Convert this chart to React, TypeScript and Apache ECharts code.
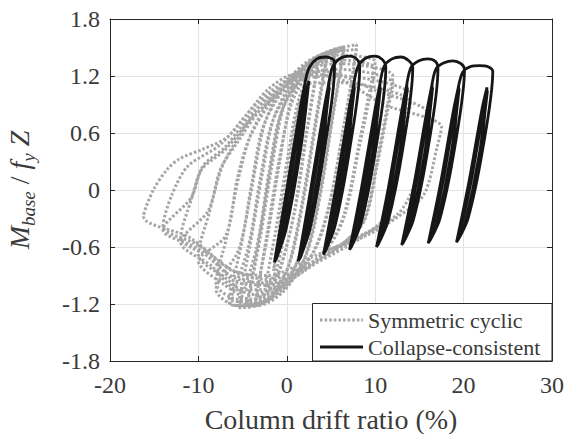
import React, { useEffect, useRef } from "react";
import * as echarts from "echarts";

// ---- axis ticks ----
const xTicks = [-20, -10, 0, 10, 20, 30];
const yTicks = [-1.8, -1.2, -0.6, 0, 0.6, 1.2, 1.8];

const legendNames = ["Symmetric cyclic", "Collapse-consistent"];

// ---- Symmetric cyclic (grey, dotted) : one continuous history ----
const symCycle1 = [[0, 0], [0.9, 0.55], [1.5, 0.95], [0.3, 0.05], [-0.7, -0.45], [-1.5, -0.85]];
const symCycle2 = [[-0.3, -0.05], [1.2, 0.8], [2.5, 1.2], [1.4, 0.55], [0.0, -0.3], [-1.2, -0.85], [-2.5, -1.05]];
const symCycle3 = [[-1.3, -0.45], [0.2, 0.4], [1.5, 1.0], [3.5, 1.33], [2.2, 0.6], [0.8, -0.25], [-0.8, -0.85], [-2.2, -1.08], [-3.5, -1.15]];
const symCycle3b = [[-2.3, -0.5], [-0.9, 0.3], [0.5, 0.9], [2.2, 1.2], [3.5, 1.3], [2.3, 0.62], [0.9, -0.22], [-0.8, -0.83], [-2.2, -1.06], [-3.5, -1.12]];
const symCycle4 = [[-2.2, -0.5], [-0.8, 0.3], [0.5, 0.95], [2.2, 1.25], [4.5, 1.42], [3.2, 0.7], [1.6, -0.2], [0, -0.85], [-2, -1.15], [-4.5, -1.22]];
const symCycle4b = [[-3.0, -0.5], [-1.6, 0.3], [-0.2, 0.92], [2.0, 1.22], [4.5, 1.38], [3.3, 0.7], [1.8, -0.15], [0.2, -0.8], [-2, -1.12], [-4.5, -1.2]];
const symCycle5 = [[-3.2, -0.55], [-1.8, 0.25], [-0.5, 0.85], [1.5, 1.2], [3.5, 1.38], [5.5, 1.48], [4.2, 0.75], [2.6, -0.15], [1.0, -0.8], [-1.5, -1.12], [-3.5, -1.22], [-5.5, -1.24]];
const symCycle5b = [[-3.4, -0.6], [-2.0, 0.2], [-0.7, 0.8], [1.5, 1.16], [3.5, 1.34], [5.5, 1.45], [4.3, 0.78], [2.8, -0.1], [1.2, -0.75], [-1.5, -1.1], [-3.5, -1.2], [-5.5, -1.2]];
const symCycle6 = [[-4.2, -0.6], [-2.8, 0.15], [-1.5, 0.75], [0.5, 1.12], [3, 1.38], [6.5, 1.51], [5.2, 0.8], [3.6, -0.1], [2.0, -0.72], [-0.5, -1.08], [-3.5, -1.22], [-6.5, -1.2]];
const symCycle6b = [[-4.4, -0.62], [-3.0, 0.12], [-1.7, 0.7], [0.5, 1.08], [3, 1.35], [6.5, 1.48], [5.3, 0.82], [3.8, -0.05], [2.2, -0.68], [-0.5, -1.05], [-3.5, -1.18], [-6.5, -1.15]];
const symCycle7 = [[-5.2, -0.6], [-3.8, 0.1], [-2.5, 0.7], [-0.5, 1.08], [2, 1.33], [5, 1.47], [7.9, 1.53], [7.6, 1.3], [6.5, 0.7], [4.8, -0.15], [3.0, -0.65], [0, -1.0], [-3, -1.2], [-5.5, -1.22], [-8, -1.05]];
const symCycle7b = [[-5.4, -0.62], [-4.0, 0.05], [-2.7, 0.66], [-0.5, 1.04], [2, 1.3], [5, 1.44], [7.9, 1.48], [7.5, 1.25], [6.4, 0.65], [4.8, -0.18], [3.0, -0.66], [0, -0.98], [-3, -1.15], [-5.5, -1.15], [-8, -0.98]];
const symCycle8 = [[-6.8, -0.5], [-5.4, 0.15], [-4.0, 0.6], [-1.5, 1.0], [2, 1.3], [6, 1.42], [10, 1.35], [9.6, 1.15], [8.2, 0.5], [6.5, -0.25], [4.5, -0.62], [0, -0.98], [-4, -1.15], [-7, -1.0], [-10, -0.75]];
const symCycle8b = [[-6.9, -0.48], [-5.6, 0.12], [-4.2, 0.55], [-1.5, 0.96], [2, 1.26], [6, 1.37], [10, 1.28], [9.6, 1.08], [8.2, 0.45], [6.5, -0.28], [4.5, -0.62], [0, -0.95], [-4, -1.1], [-7, -0.92], [-10, -0.68]];
const symCycle9 = [[-8.8, -0.25], [-7.3, 0.25], [-5.5, 0.55], [-2.5, 0.95], [1.5, 1.25], [6, 1.33], [12, 1.2], [11.5, 0.95], [10.3, 0.35], [8.8, -0.3], [6.5, -0.55], [2, -0.85], [-2, -1.05], [-5.5, -1.05], [-8.5, -0.8], [-12, -0.55]];
const symCycle9b = [[-8.9, -0.22], [-7.5, 0.22], [-5.6, 0.5], [-2.5, 0.9], [1.5, 1.2], [6, 1.27], [12, 1.12], [11.5, 0.88], [10.3, 0.3], [8.8, -0.32], [6.5, -0.55], [2, -0.82], [-2, -1.0], [-5.5, -0.98], [-8.5, -0.72], [-12, -0.5]];
const symCycle10 = [[-10.8, -0.1], [-9.5, 0.25], [-7, 0.45], [-3.5, 0.85], [1, 1.15], [6, 1.2], [14, 1.0], [13.6, 0.8], [12.4, 0.2], [11, -0.3], [8.5, -0.5], [3, -0.78], [-2, -0.98], [-6, -0.92], [-10, -0.62], [-14, -0.42]];
const symCycle10b = [[-10.8, -0.08], [-9.6, 0.22], [-7, 0.42], [-3.5, 0.8], [1, 1.1], [6, 1.13], [14, 0.92], [13.6, 0.72], [12.4, 0.15], [11, -0.3], [8.5, -0.48], [3, -0.75], [-2, -0.94], [-6, -0.86], [-10, -0.58], [-14, -0.38]];
const symCycle11 = [[-13, -0.05], [-11.2, 0.25], [-7.5, 0.48], [-3.5, 0.9], [0, 1.15], [4, 1.25], [10, 1.05], [16, 0.8], [15.6, 0.6], [14.4, 0.05], [12.6, -0.25], [9, -0.45], [3, -0.7], [-2, -0.9], [-6, -0.85], [-11, -0.5], [-16.2, -0.28]];
const symCycle12 = [[-15.1, 0.0], [-13.5, 0.22], [-12.1, 0.33], [-9.5, 0.43], [-6.8, 0.55], [-4.5, 0.8], [-2, 1.07], [1, 1.22], [5, 1.2], [11, 0.9], [17.5, 0.66], [17, 0.45], [15.5, -0.05], [12.6, -0.28], [9, -0.48], [4, -0.65]];

// ---- Collapse-consistent (black) : ratcheting loops ----
const ccLoop0 = [[0, 0], [1.3, 0.7], [2.5, 1.15], [1.6, 0.45], [-0.1, -0.42], [-1.4, -0.76], [-0.05, -0.02], [1.5, 0.85], [2.05, 1.12], [1.35, 0.42], [-0.3, -0.47], [-1.25, -0.74], [0.1, 0.0], [1.6, 0.86], [2.1, 1.08], [1.2, 0.38], [-0.45, -0.5], [-1.15, -0.72], [0.25, 0.02], [1.7, 0.88], [2.0, 1.1], [2.5, 1.28], [3.4, 1.38], [4.4, 1.40], [5.3, 1.37]];
const ccLoop1 = [[5.4, 1.29], [4.3, 0.45], [2.6, -0.42], [1.3, -0.75], [2.65, -0.02], [4.2, 0.85], [4.75, 1.12], [4.05, 0.42], [2.4, -0.47], [1.45, -0.73], [2.8, 0.0], [4.3, 0.86], [4.8, 1.08], [3.9, 0.38], [2.25, -0.5], [1.55, -0.71], [2.95, 0.02], [4.4, 0.88], [4.7, 1.1], [5.2, 1.3], [6.1, 1.39], [7.1, 1.41], [8.0, 1.37]];
const ccLoop2 = [[8.25, 1.29], [7.15, 0.45], [5.45, -0.38], [4.15, -0.68], [5.5, 0.0], [7.05, 0.86], [7.6, 1.12], [6.9, 0.43], [5.25, -0.42], [4.3, -0.66], [5.65, 0.02], [7.15, 0.87], [7.65, 1.08], [6.75, 0.39], [5.1, -0.44], [4.4, -0.64], [5.8, 0.04], [7.25, 0.88], [7.55, 1.1], [8.05, 1.3], [8.95, 1.39], [9.95, 1.41], [10.85, 1.37]];
const ccLoop3 = [[11.2, 1.29], [10.1, 0.45], [8.4, -0.35], [7.1, -0.63], [8.45, 0.02], [10.0, 0.86], [10.55, 1.12], [9.85, 0.43], [8.2, -0.39], [7.25, -0.61], [8.6, 0.03], [10.1, 0.87], [10.6, 1.08], [9.7, 0.39], [8.05, -0.41], [7.35, -0.59], [8.75, 0.05], [10.2, 0.88], [10.5, 1.1], [11.0, 1.3], [11.9, 1.38], [12.9, 1.40], [13.8, 1.36]];
const ccLoop4 = [[14.25, 1.29], [13.15, 0.45], [11.45, -0.33], [10.15, -0.60], [11.5, 0.03], [13.05, 0.86], [13.6, 1.12], [12.9, 0.43], [11.25, -0.37], [10.3, -0.58], [11.65, 0.04], [13.15, 0.87], [13.65, 1.08], [12.75, 0.39], [11.1, -0.39], [10.4, -0.56], [11.8, 0.06], [13.25, 0.88], [13.55, 1.1], [14.05, 1.29], [14.95, 1.36], [15.95, 1.38], [16.85, 1.35]];
const ccLoop5 = [[17.1, 1.28], [16.0, 0.45], [14.3, -0.32], [13.0, -0.58], [14.35, 0.04], [15.9, 0.86], [16.45, 1.12], [15.75, 0.43], [14.1, -0.36], [13.15, -0.56], [14.5, 0.05], [16.0, 0.87], [16.5, 1.08], [15.6, 0.39], [13.95, -0.38], [13.25, -0.54], [14.65, 0.07], [16.1, 0.88], [16.4, 1.1], [16.9, 1.28], [17.8, 1.34], [18.8, 1.36], [19.7, 1.33]];
const ccLoop6 = [[20.1, 1.27], [19.0, 0.45], [17.3, -0.31], [16.0, -0.56], [17.35, 0.05], [18.9, 0.86], [19.45, 1.1], [18.75, 0.43], [17.1, -0.35], [16.15, -0.54], [17.5, 0.06], [19.0, 0.87], [19.5, 1.07], [18.6, 0.39], [16.95, -0.37], [16.25, -0.52], [17.65, 0.08], [19.1, 0.88], [19.4, 1.08], [19.9, 1.24], [20.8, 1.30], [21.8, 1.31], [22.7, 1.30]];
const ccLoop7 = [[23.3, 1.25], [22.2, 0.45], [20.5, -0.3], [19.2, -0.55], [20.55, 0.06], [22.1, 0.86], [22.65, 1.08], [21.95, 0.43], [20.3, -0.34], [19.35, -0.53], [20.7, 0.07], [22.2, 0.87], [22.7, 1.05], [21.8, 0.39], [20.15, -0.36], [19.45, -0.51], [20.85, 0.09], [22.3, 0.88], [22.6, 1.06]];

const symData = [
  ...symCycle1, ...symCycle2, ...symCycle3, ...symCycle3b, ...symCycle4, ...symCycle4b,
  ...symCycle5, ...symCycle5b, ...symCycle6, ...symCycle6b, ...symCycle7, ...symCycle7b,
  ...symCycle8, ...symCycle8b, ...symCycle9, ...symCycle9b, ...symCycle10, ...symCycle10b,
  ...symCycle11, ...symCycle12,
];
const ccData = [...ccLoop0, ...ccLoop1, ...ccLoop2, ...ccLoop3, ...ccLoop4, ...ccLoop5, ...ccLoop6, ...ccLoop7];

const FONT = "Liberation Serif";
const TXT = "#3a3a3a";
const AXC = "#262626";
const GREY = "#a6a6a6";
const BLACK = "#161616";

export default function App() {
  const ref = useRef<HTMLDivElement>(null);
  useEffect(() => {
    if (!ref.current) return;
    const chart = echarts.init(ref.current, undefined, { renderer: "svg" });
    const fmtY = (v: number) => {
      const r = Math.round(v * 10) / 10;
      return r === 0 ? "0" : r.toFixed(1);
    };
    chart.setOption({
      animation: false,
      backgroundColor: "#ffffff",
      grid: { left: 110, right: 19, top: 19, bottom: 73, outerBoundsMode: "none", containLabel: false },
      graphic: [
        {
          type: "rect",
          z: 100,
          shape: { x: 312.5, y: 303.5, width: 239.5, height: 57.5 },
          style: { fill: "#ffffff", stroke: AXC, lineWidth: 1 },
        },
        {
          type: "line",
          z: 101,
          shape: { x1: 320, y1: 320, x2: 363, y2: 320 },
          style: { stroke: GREY, lineWidth: 3, lineDash: [2.6, 2] },
        },
        {
          type: "line",
          z: 101,
          shape: { x1: 320, y1: 347, x2: 363, y2: 347 },
          style: { stroke: BLACK, lineWidth: 2.8 },
        },
        {
          type: "text",
          z: 101,
          x: 368,
          y: 320,
          style: { text: legendNames[0], fontFamily: FONT, fontSize: 22, fill: TXT, verticalAlign: "middle", align: "left" },
        },
        {
          type: "text",
          z: 101,
          x: 368,
          y: 347,
          style: { text: legendNames[1], fontFamily: FONT, fontSize: 22, fill: TXT, verticalAlign: "middle", align: "left" },
        },
      ],
      xAxis: [
        {
          type: "value",
          min: xTicks[0],
          max: xTicks[xTicks.length - 1],
          interval: 10,
          name: "Column drift ratio (%)",
          nameLocation: "middle",
          nameGap: 44,
          nameTextStyle: { fontFamily: FONT, fontSize: 28, color: TXT },
          axisLine: { show: true, onZero: false, lineStyle: { color: AXC, width: 1 } },
          axisTick: { show: true, inside: true, length: 5, lineStyle: { color: AXC } },
          axisLabel: { fontFamily: FONT, fontSize: 24, color: TXT, margin: 12 },
          splitLine: { show: true, lineStyle: { color: "#e3e3e3", width: 1 } },
        },
        {
          type: "value",
          position: "top",
          min: xTicks[0],
          max: xTicks[xTicks.length - 1],
          interval: 10,
          axisLine: { show: true, onZero: false, lineStyle: { color: AXC, width: 1 } },
          axisTick: { show: true, inside: true, length: 5, lineStyle: { color: AXC } },
          axisLabel: { show: false },
          splitLine: { show: false },
        },
      ],
      yAxis: [
        {
          type: "value",
          min: yTicks[0],
          max: yTicks[yTicks.length - 1],
          interval: 0.6,
          name: "{i|M}{s|base}{n| / }{i|f}{s|y}{n| }{i|Z}",
          nameLocation: "middle",
          nameRotate: 90,
          nameGap: 72,
          nameTextStyle: {
            fontFamily: FONT,
            color: TXT,
            rich: {
              i: { fontFamily: FONT, fontStyle: "italic", fontSize: 28, color: TXT, lineHeight: 38 },
              n: { fontFamily: FONT, fontSize: 28, color: TXT, lineHeight: 38 },
              s: { fontFamily: FONT, fontStyle: "italic", fontSize: 19, color: TXT, lineHeight: 19, verticalAlign: "bottom" },
            },
          },
          axisLine: { show: true, onZero: false, lineStyle: { color: AXC, width: 1 } },
          axisTick: { show: true, inside: true, length: 5, lineStyle: { color: AXC } },
          axisLabel: { fontFamily: FONT, fontSize: 24, color: TXT, margin: 10, formatter: fmtY },
          splitLine: { show: true, lineStyle: { color: "#e3e3e3", width: 1 } },
        },
        {
          type: "value",
          position: "right",
          min: yTicks[0],
          max: yTicks[yTicks.length - 1],
          interval: 0.6,
          axisLine: { show: true, onZero: false, lineStyle: { color: AXC, width: 1 } },
          axisTick: { show: true, inside: true, length: 5, lineStyle: { color: AXC } },
          axisLabel: { show: false },
          splitLine: { show: false },
        },
      ],
      series: [
        {
          name: legendNames[0],
          type: "line",
          data: symData,
          showSymbol: false,
          symbol: "none",
          smooth: 0.3,
          lineStyle: { color: GREY, width: 3, type: [2.6, 2] },
          itemStyle: { color: GREY },
          z: 2,
        },
        {
          name: legendNames[1],
          type: "line",
          data: ccData,
          showSymbol: false,
          symbol: "none",
          smooth: 0.3,
          lineStyle: { color: BLACK, width: 2.8 },
          itemStyle: { color: BLACK },
          z: 3,
        },
      ],
    });
    return () => chart.dispose();
  }, []);
  return <div ref={ref} style={{ position: "absolute", left: 0, top: 0, width: 571, height: 434 }} />;
}
